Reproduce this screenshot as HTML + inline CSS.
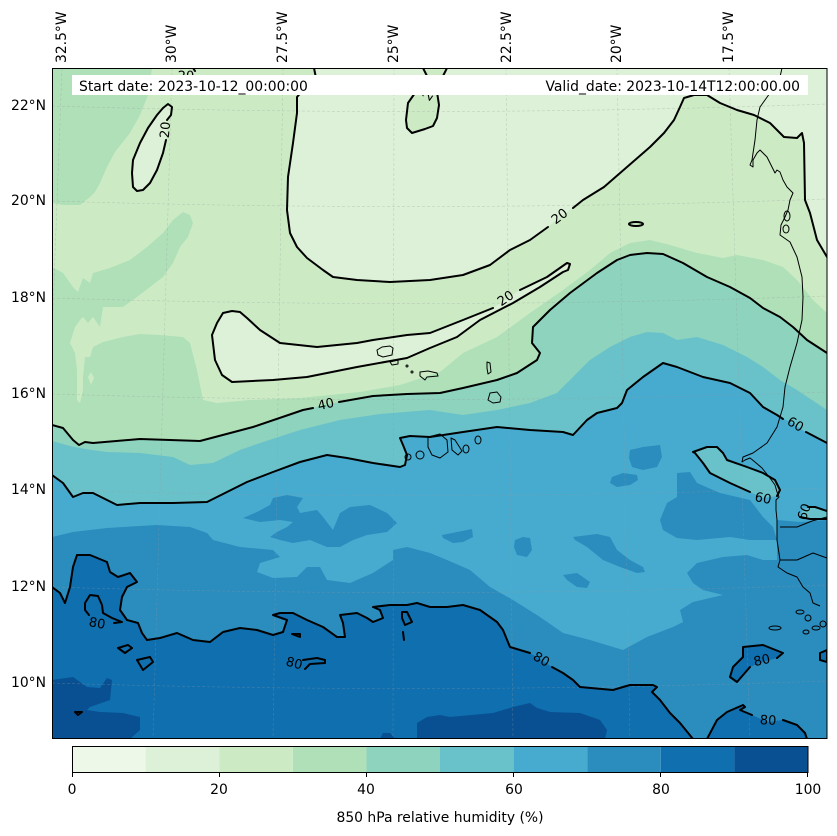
<!DOCTYPE html>
<html><head><meta charset="utf-8"><style>
html,body{margin:0;padding:0;background:#fff;}
svg{display:block;}
text{font-family:"DejaVu Sans","Liberation Sans",sans-serif;fill:#000;}
</style></head><body>
<svg width="837" height="836" viewBox="0 0 837 836" xmlns="http://www.w3.org/2000/svg">
<defs><clipPath id="m"><rect x="52" y="68" width="775" height="671"/></clipPath></defs>
<rect width="837" height="836" fill="#fff"/>
<g clip-path="url(#m)">
<rect x="52" y="68" width="775" height="671" fill="#ccebc5"/>
<!-- 10-20 -->
<polygon fill="#dcf1d7" points="314,68 316,78 305,88 297,97 297,113 293,143 288,177 287,210 290,233 297,247 307,258 323,270 333,277 357,280 390,282 430,280 463,275 490,265 510,250 530,240 553,223 567,212 583,200 604,187 627,167 650,147 664,133 674,120 680,107 684,98 694,95 707,95 720,103 737,110 754,115 770,123 784,137 797,138 802,133 804,143 805,200 810,213 817,240 827,257 827,68"/>
<polygon fill="#dcf1d7" points="232,311 240,312 247,318 260,330 280,343 317,347 357,343 373,340 407,335 430,333 463,320 493,308 520,290 547,277 567,263 570,264 568,270 563,272 540,287 513,303 480,320 457,337 430,348 407,358 357,367 307,377 273,380 232,382 222,375 215,360 212,335 217,323 223,313"/>
<polygon fill="#dcf1d7" points="168,104 172,107 171,115 167,120 166,140 163,153 157,170 150,183 143,190 137,191 133,187 132,173 133,160 140,143 148,128 157,115 163,108"/>
<polygon fill="#ccebc5" points="423,68 428,78 420,88 415,93 408,103 406,120 407,128 412,133 425,129 433,126 437,118 439,105 437,92 440,82 447,68"/>
<!-- 30-40 -->
<polygon fill="#afe0b8" points="52,68 152,68 148,95 140,115 130,133 115,152 107,167 100,183 95,192 90,197 80,205 63,205 52,203"/>
<polygon fill="#afe0b8" points="52,267 63,273 73,287 78,292 83,278 90,283 93,273 110,268 130,260 147,247 163,233 173,220 183,212 190,215 193,223 188,237 180,247 173,263 163,277 150,287 137,297 123,307 103,307 100,327 93,317 88,323 83,317 80,320 75,327 70,343 75,353 77,370 77,400 80,403 83,390 83,377 85,357 90,357 93,347 103,342 123,337 140,334 160,335 183,337 190,343 197,370 203,400 217,403 250,400 300,398 360,392 400,385 440,372 463,353 497,337 530,313 563,290 590,270 610,253 630,243 650,240 670,245 697,253 723,258 737,255 763,260 783,267 797,280 813,300 827,313 827,739 52,739"/>
<polygon fill="#ccebc5" points="88,377 91,372 94,378 91,385"/>
<!-- 40-50 -->
<polygon fill="#8dd3be" points="52,425 63,428 73,440 79,445 85,442 93,443 140,439 200,441 253,427 303,410 326,405 339,402 373,396 407,394 440,393 463,388 497,380 517,373 537,360 540,353 532,343 533,327 550,310 570,293 597,273 617,260 630,255 647,253 663,254 683,263 707,277 730,287 750,298 763,308 780,317 793,327 807,340 827,353 827,739 52,739"/>
<!-- 50-60 -->
<polygon fill="#69c2ca" points="52,441 70,446 85,449 107,452 140,453 173,457 190,465 213,463 240,450 260,443 300,430 340,420 380,414 430,410 463,415 497,410 530,403 557,393 573,377 590,360 610,347 630,337 647,332 663,333 677,340 697,337 723,345 747,357 763,367 780,380 797,390 827,410 827,739 52,739"/>
<!-- 60-70 -->
<polygon fill="#47abcf" points="52,475 63,483 73,497 83,493 93,493 117,505 140,503 173,503 207,502 227,492 247,482 273,472 300,462 327,455 347,458 373,463 400,467 405,465 407,455 403,445 400,438 410,436 430,437 463,432 497,427 530,430 563,432 573,435 587,420 597,413 617,408 622,403 627,390 643,377 663,363 677,367 703,377 730,383 750,393 763,407 777,415 795,425 807,433 827,443 827,739 52,739"/>
<polygon fill="#69c2ca" points="693,452 707,447 717,447 723,453 727,460 747,467 763,473 775,480 780,490 777,496 763,498 750,492 730,483 710,473 703,463 695,453"/>
<polygon fill="#69c2ca" points="800,517 803,509 815,507 827,511 827,519 810,519"/>
<!-- 70-80 -->
<polygon fill="#2b8cbe" points="52,537 73,532 107,528 157,525 190,527 207,533 213,540 240,547 273,550 280,557 260,563 257,572 273,578 297,577 307,567 320,567 327,580 350,583 373,573 393,560 393,550 407,547 430,553 447,560 470,570 490,587 513,600 540,617 563,633 590,640 623,650 647,637 673,627 683,622 680,610 693,602 723,595 703,590 693,583 687,573 697,563 723,557 747,555 763,560 777,560 777,520 800,522 827,520 827,739 52,739"/>
<polygon fill="#2b8cbe" points="243,518 257,512 270,505 273,498 287,495 303,498 297,507 300,513 317,510 323,517 333,530 340,513 350,507 370,505 387,513 397,523 387,532 367,535 353,540 340,547 327,547 310,540 293,543 280,540 270,537 277,532 287,527 293,522 280,520 260,522"/>
<polygon fill="#2b8cbe" points="630,450 643,447 660,445 662,457 657,467 643,470 632,467 629,458"/>
<polygon fill="#2b8cbe" points="612,477 623,473 637,475 638,480 630,485 617,487 610,483"/>
<polygon fill="#2b8cbe" points="442,535 457,532 472,529 473,537 463,542 453,543 443,538"/>
<polygon fill="#2b8cbe" points="515,540 523,537 530,538 532,550 527,557 517,555 514,547"/>
<polygon fill="#2b8cbe" points="573,537 597,534 610,537 617,550 630,560 643,567 645,572 637,573 620,567 603,560 587,547 575,540"/>
<polygon fill="#2b8cbe" points="563,575 577,573 590,582 587,588 577,587 567,580"/>
<polygon fill="#2b8cbe" points="677,473 690,472 697,483 720,493 750,500 763,517 773,527 777,540 750,540 730,537 697,540 677,538 663,530 660,520 667,503 677,497"/>
<!-- 80-90 -->
<polygon fill="#0f6faf" points="52,587 60,593 65,603 70,587 73,567 77,555 90,555 107,562 110,572 118,577 130,573 137,582 127,587 122,597 120,610 127,620 138,623 142,633 147,640 160,638 177,633 193,640 210,642 223,632 240,628 257,630 273,635 283,632 287,620 273,615 280,613 293,613 307,620 323,627 337,637 345,637 343,623 340,615 357,613 367,618 373,622 383,618 380,610 373,607 390,605 407,605 417,603 430,607 447,607 463,605 480,610 497,622 503,630 510,647 520,650 530,653 552,667 563,673 573,680 580,687 613,690 623,687 630,685 653,685 657,687 652,692 660,700 670,713 680,723 693,739 52,739"/>
<polygon fill="#0f6faf" points="707,739 717,720 727,712 743,705 745,707 740,710 752,715 768,722 783,720 797,725 805,733 807,739"/>
<polygon fill="#0f6faf" points="743,657 743,647 763,645 783,653 777,658 762,662 750,667 737,682 730,677 733,667"/>
<polygon fill="#0f6faf" points="820,653 827,650 827,662 820,660"/>
<!-- 90-100 -->
<polygon fill="#085092" points="52,680 73,677 87,687 100,688 107,678 112,680 110,700 90,707 87,710 100,712 123,713 140,717 140,730 130,739 52,739"/>
<polygon fill="#085092" points="417,739 417,723 427,717 440,715 450,717 493,713 513,707 530,703 537,708 550,712 580,713 600,720 607,730 605,739"/>
<polygon fill="#085092" points="380,739 383,733 390,733 395,739"/>
<!-- gridlines -->
<g stroke="#999" stroke-width="0.6" stroke-dasharray="3,2" fill="none" opacity="0.4">
<line x1="62" y1="68" x2="37" y2="739"/>
<line x1="172" y1="68" x2="153" y2="739"/>
<line x1="283" y1="68" x2="273" y2="739"/>
<line x1="394" y1="68" x2="393" y2="739"/>
<line x1="506" y1="68" x2="513" y2="739"/>
<line x1="617" y1="68" x2="630" y2="739"/>
<line x1="729" y1="68" x2="750" y2="739"/>
<path d="M52,106 Q440,118 827,104"/>
<path d="M52,201 Q440,213 827,199"/>
<path d="M52,298 Q440,310 827,296"/>
<path d="M52,394 Q440,406 827,392"/>
<path d="M52,490 Q440,502 827,488"/>
<path d="M52,587 Q440,599 827,585"/>
<path d="M52,683 Q440,695 827,681"/>
</g>
<!-- coastlines -->
<g stroke="#000" stroke-width="1" fill="none" stroke-linejoin="round">
<polyline points="782,68 780,77 770,93 760,107 757,120 755,140 752,160 750,165 753,167 753,160 757,153 760,150 767,157 770,163 775,173 777,170 780,172 783,180 787,187 790,190 793,193 790,200 788,210 785,217 781,225 780,235 790,242 797,257 802,277 803,297 802,320 797,343 790,367 785,387 783,407 777,427 767,443 753,453 743,457 742,462 745,460 750,458 755,462 762,468 770,478 775,485 777,492 779,497 776,500 776,510 777,520 777,540 780,560 778,567 787,573 797,577 803,587 810,593 813,603 820,606"/>
<ellipse cx="787" cy="216" rx="3" ry="5"/>
<ellipse cx="786" cy="229" rx="3" ry="4"/>
<polyline points="780,560 797,560 813,553 827,558"/>
<polyline points="780,527 797,527 812,521 827,517"/>
<ellipse cx="800" cy="612" rx="4" ry="2"/>
<ellipse cx="808" cy="618" rx="3" ry="3"/>
<ellipse cx="816" cy="628" rx="4" ry="2"/>
<ellipse cx="806" cy="632" rx="3" ry="2"/>
<ellipse cx="823" cy="624" rx="3" ry="3"/>
<ellipse cx="775" cy="628" rx="6" ry="2"/>
<polygon points="377,350 382,347 390,346 393,348 392,355 383,357 378,355"/>
<polygon points="390,362 398,360 398,364 392,365"/>
<circle cx="407" cy="366" r="1"/>
<circle cx="412" cy="372" r="1"/>
<polygon points="420,372 428,371 437,373 438,376 427,377 425,380 420,376"/>
<polygon points="487,362 490,363 491,372 488,374 487,368"/>
<polygon points="490,393 497,392 501,397 500,402 493,403 488,400"/>
<polygon points="428,437 440,434 447,440 448,452 440,458 432,455 428,447"/>
<polygon points="451,438 455,440 462,451 458,455 452,450"/>
<ellipse cx="466" cy="449" rx="3" ry="4"/>
<ellipse cx="478" cy="440" rx="3" ry="4"/>
<circle cx="420" cy="455" r="4"/>
<circle cx="408" cy="457" r="3"/>
</g>
<!-- contour lines -->
<g stroke="#000" stroke-width="2" fill="none" stroke-linejoin="round" stroke-linecap="round">
<polyline points="166,140 163,153 157,170 150,183 143,190 137,191 133,187 132,173 133,160 140,143 148,128 157,115 163,108 168,104 172,107 171,115 167,120"/>
<polyline points="314,68 316,78 305,88 297,97 297,113 293,143 288,177 287,210 290,233 297,247 307,258 323,270 333,277 357,280 390,282 430,280 463,275 490,265 510,250 530,240 548,227"/>
<polyline points="573,208 583,200 604,187 627,167 650,147 664,133 674,120 680,107 684,98 694,95 707,95 720,103 737,110 754,115 770,123 784,137 797,138 802,133 804,143 805,200 810,213 817,240 827,257"/>
<polyline points="520,290 547,277 567,263 570,264 568,270 563,272 540,287 513,303 480,320 457,337 430,348 407,358 357,367 307,377 273,380 232,382 222,375 215,360 212,335 217,323 223,313 232,311 240,312 247,318 260,330 280,343 317,347 357,343 373,340 407,335 430,333 463,320 493,308"/>
<polyline points="423,68 428,78 420,88 415,93 408,103 406,120 407,128 412,133 425,129 433,126 437,118 439,105 437,92 440,82 447,68"/>
<polyline points="193,68 195,71"/>
<ellipse cx="636" cy="224" rx="7" ry="2"/>
<polyline points="52,425 63,428 73,440 79,445 85,442 93,443 140,439 200,441 253,427 303,410 313,408"/>
<polyline points="339,402 373,396 407,394 440,393 463,388 497,380 517,373 537,360 540,353 532,343 533,327 550,310 570,293 597,273 617,260 630,255 647,253 663,254 683,263 707,277 730,287 750,298 763,308 780,317 793,327 807,340 827,353"/>
<polyline points="52,475 63,483 73,497 83,493 93,493 117,505 140,503 173,503 207,502 227,492 247,482 273,472 300,462 327,455 347,458 373,463 400,467 405,465 407,455 403,445 400,438 410,436 430,437 463,432 497,427 530,430 563,432 573,435 587,420 597,413 617,408 622,403 627,390 643,377 663,363 677,367 703,377 730,383 750,393 763,407 777,415 783,419"/>
<polyline points="806,432 827,443"/>
<polyline points="777,496 780,490 775,480 763,473 747,467 727,460 723,453 717,447 707,447 693,452 695,453 703,463 710,473 730,483 750,492"/>
<polyline points="808,507 815,507 827,511"/>
<polyline points="827,519 810,519 800,517"/>
<polyline points="52,587 60,593 65,603 70,587 73,567 77,555 90,555 107,562 110,572 118,577 130,573 137,582 127,587 122,597 120,610 127,620 138,623 142,633 147,640 160,638 177,633 193,640 210,642 223,632 240,628 257,630 273,635 283,632 287,620 273,615 280,613 293,613 307,620 323,627 337,637 345,637 343,623 340,615 357,613 367,618 373,622 383,618 380,610 373,607 390,605 407,605 417,603 430,607 447,607 463,605 480,610 497,622 503,630 510,647 520,650 530,653"/>
<polyline points="552,667 563,673 573,680 580,687 613,690 623,687 630,685 653,685 657,687 652,692 660,700 670,713 680,723 693,739"/>
<polyline points="707,739 717,720 727,712 743,705 745,707 740,710 752,715"/>
<polyline points="783,720 797,725 805,733 807,739"/>
<polyline points="750,667 737,682 730,677 733,667 743,657 743,647 763,645 783,653 777,658"/>
<polyline points="114,623 122,622 112,618 103,613 102,605 98,596 90,595 85,603 85,610 89,615"/>
<polyline points="303,660 317,658 325,660 325,663 310,664 305,669"/>
<polygon points="118,648 128,645 132,648 125,653"/>
<polygon points="137,660 150,657 153,662 143,670"/>
<polygon points="292,634 300,634 300,637"/>
<polygon points="402,612 407,612 412,622 405,625 402,618"/>
<polyline points="403,632 404,640"/>
<polygon points="75,712 82,712 78,715"/>
<polygon points="820,653 827,650 827,662 820,660"/>
</g>
<!-- contour labels -->
<g font-size="13" text-anchor="middle" dominant-baseline="central">
<text transform="translate(166,130) rotate(-85)">20</text>
<text transform="translate(560,217) rotate(-37)">20</text>
<text transform="translate(506,299) rotate(-34)">20</text>
<text transform="translate(326,405) rotate(-13)">40</text>
<text transform="translate(795,425) rotate(30)">60</text>
<text transform="translate(763,499) rotate(12)">60</text>
<text transform="translate(805,512) rotate(-70)">60</text>
<text transform="translate(97,624) rotate(10)">80</text>
<text transform="translate(294,664) rotate(15)">80</text>
<text transform="translate(541,660) rotate(30)">80</text>
<text transform="translate(762,661) rotate(-12)">80</text>
<text transform="translate(768,721) rotate(3)">80</text>
<text transform="translate(186,77)">20</text>
<text transform="translate(431,93) rotate(-55)">20</text>
</g>
</g>
<!-- annotation box -->
<rect x="72" y="75" width="736" height="20" fill="#fff"/>
<text x="79" y="91" font-size="13.9">Start date: 2023-10-12_00:00:00</text>
<text x="800" y="91" font-size="13.9" text-anchor="end">Valid_date: 2023-10-14T12:00:00.00</text>
<!-- map frame -->
<rect x="52.5" y="68.5" width="774.5" height="670" fill="none" stroke="#000" stroke-width="1"/>
<!-- top tick labels -->
<g font-size="13.9" dominant-baseline="central">
<text transform="translate(62,63) rotate(-90)">32.5°W</text>
<text transform="translate(172,63) rotate(-90)">30°W</text>
<text transform="translate(283,63) rotate(-90)">27.5°W</text>
<text transform="translate(394,63) rotate(-90)">25°W</text>
<text transform="translate(507,63) rotate(-90)">22.5°W</text>
<text transform="translate(617,63) rotate(-90)">20°W</text>
<text transform="translate(729,63) rotate(-90)">17.5°W</text>
</g>
<!-- left tick labels -->
<g font-size="13.9" text-anchor="end" dominant-baseline="central">
<text x="46" y="106">22°N</text>
<text x="46" y="201">20°N</text>
<text x="46" y="298">18°N</text>
<text x="46" y="394">16°N</text>
<text x="46" y="490">14°N</text>
<text x="46" y="587">12°N</text>
<text x="46" y="683">10°N</text>
</g>
<!-- colorbar -->
<g>
<rect x="72" y="746" width="73.6" height="26" fill="#eef8e8"/>
<rect x="145.6" y="746" width="73.6" height="26" fill="#dcf1d7"/>
<rect x="219.2" y="746" width="73.6" height="26" fill="#ccebc5"/>
<rect x="292.8" y="746" width="73.6" height="26" fill="#afe0b8"/>
<rect x="366.4" y="746" width="73.6" height="26" fill="#8dd3be"/>
<rect x="440" y="746" width="73.6" height="26" fill="#69c2ca"/>
<rect x="513.6" y="746" width="73.6" height="26" fill="#47abcf"/>
<rect x="587.2" y="746" width="73.6" height="26" fill="#2b8cbe"/>
<rect x="660.8" y="746" width="73.6" height="26" fill="#0f6faf"/>
<rect x="734.4" y="746" width="73.6" height="26" fill="#085092"/>
<rect x="72.5" y="746.5" width="735.5" height="26" fill="none" stroke="#000" stroke-width="1"/>
<g stroke="#000" stroke-width="1">
<line x1="72.5" y1="772" x2="72.5" y2="777"/>
<line x1="219.5" y1="772" x2="219.5" y2="777"/>
<line x1="366.5" y1="772" x2="366.5" y2="777"/>
<line x1="513.5" y1="772" x2="513.5" y2="777"/>
<line x1="660.5" y1="772" x2="660.5" y2="777"/>
<line x1="807.5" y1="772" x2="807.5" y2="777"/>
</g>
<g font-size="13.9" text-anchor="middle">
<text x="72" y="794">0</text>
<text x="219" y="794">20</text>
<text x="366" y="794">40</text>
<text x="514" y="794">60</text>
<text x="661" y="794">80</text>
<text x="808" y="794">100</text>
<text x="440" y="822">850 hPa relative humidity (%)</text>
</g>
</g>
</svg>
</body></html>
